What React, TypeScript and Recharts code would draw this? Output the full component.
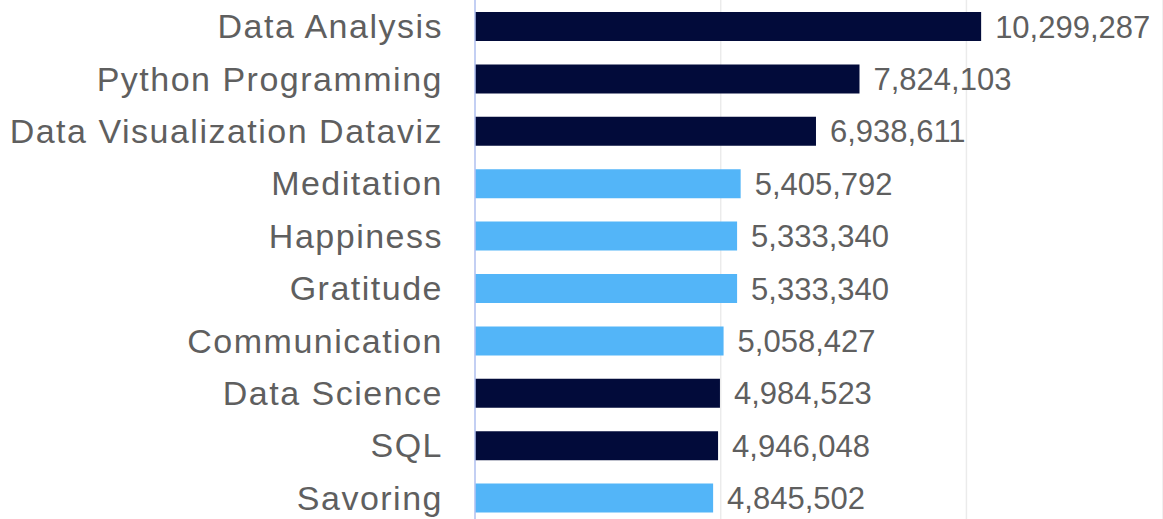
import { Bar, BarChart, CartesianGrid, Cell, LabelList, XAxis, YAxis } from "recharts";

const skills = [
  "Data Analysis",
  "Python Programming",
  "Data Visualization Dataviz",
  "Meditation",
  "Happiness",
  "Gratitude",
  "Communication",
  "Data Science",
  "SQL",
  "Savoring"
];

const learners = [
  10299287, 7824103, 6938611, 5405792, 5333340, 5333340, 5058427, 4984523, 4946048, 4845502
];

// which family each skill belongs to (drives the bar colour)
const groups = ["data", "data", "data", "wellbeing", "wellbeing", "wellbeing", "wellbeing", "data", "data", "wellbeing"];

const xTicks = [0, 5000000, 10000000];

const groupColor: Record<string, string> = {
  data: "#020b3a",
  wellbeing: "#53b5f8"
};

const rows = skills.map((skill, i) => ({ skill, value: learners[i], group: groups[i] }));

const fmt = (v: number) => v.toLocaleString("en-US");

export default function App() {
  return (
    <div style={{ position: "absolute", left: 0, top: 0, width: 1163, height: 519, overflow: "hidden", background: "#fff" }}>
      <BarChart
        width={1163}
        height={524}
        data={rows}
        layout="vertical"
        margin={{ top: 0, right: 0, bottom: 0, left: 0 }}
        barSize={29}
        style={{ fontFamily: "'Liberation Sans', Arial, sans-serif" }}
      >
        <CartesianGrid horizontal={false} stroke="#ebebeb" strokeWidth={1.5} />
        <XAxis type="number" domain={[0, 14000000]} ticks={xTicks} hide />
        <YAxis
          type="category"
          dataKey="skill"
          width={475}
          tickLine={false}
          tickSize={0}
          tickMargin={32}
          axisLine={{ stroke: "#b4c4f5", strokeWidth: 1.5 }}
          tick={{ fontSize: 34, fill: "#5f5f5f", letterSpacing: 1.5 }}
          interval={0}
        />
        <Bar dataKey="value" isAnimationActive={false}>
          {rows.map((r) => (
            <Cell key={r.skill} fill={groupColor[r.group]} />
          ))}
          <LabelList
            dataKey="value"
            position="right"
            offset={14}
            formatter={(v: any) => fmt(Number(v))}
            style={{ fontSize: 31, fill: "#5f5f5f" }}
          />
        </Bar>
      </BarChart>
    </div>
  );
}
